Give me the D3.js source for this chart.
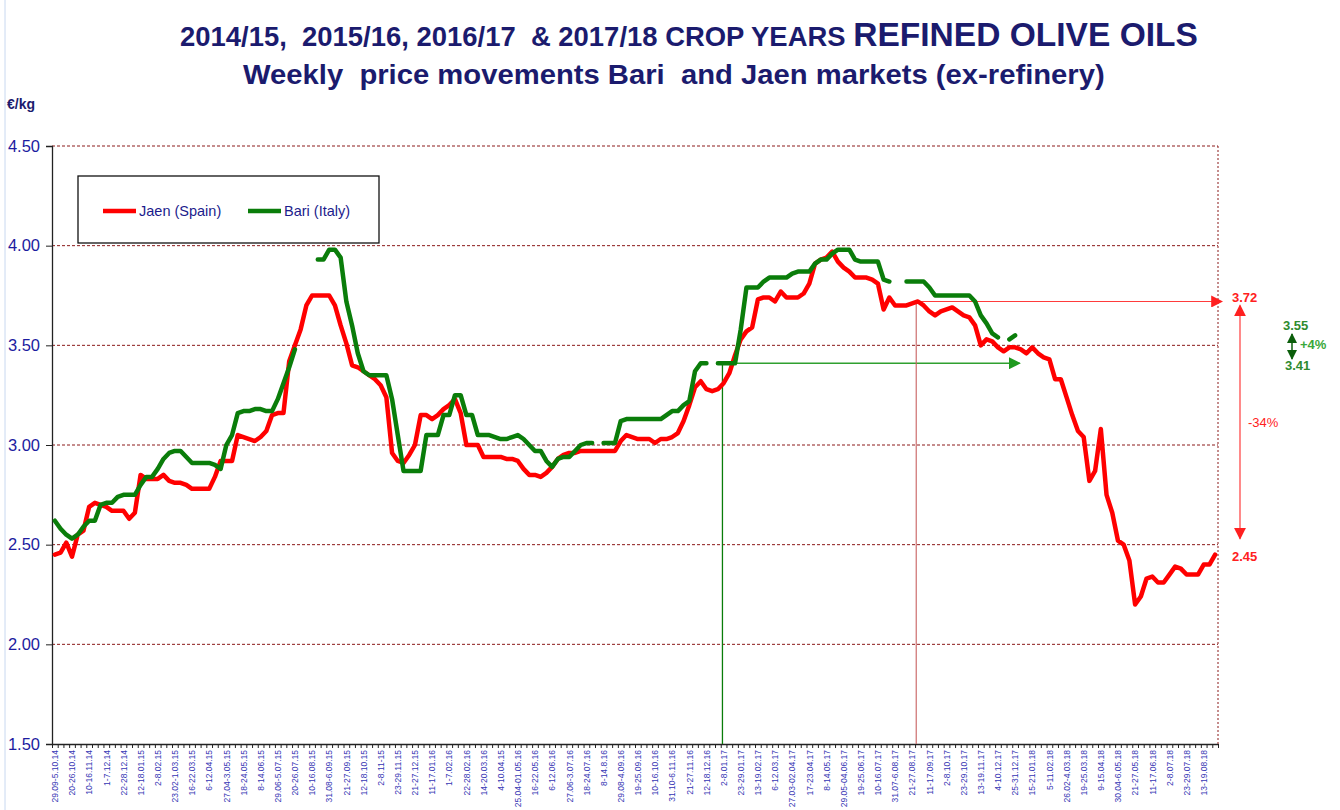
<!DOCTYPE html>
<html>
<head>
<meta charset="utf-8">
<script src="https://cdn.jsdelivr.net/npm/d3@7"></script>
<style>
  html, body { margin: 0; padding: 0; background: #ffffff; }
  svg { display: block; font-family: "Liberation Sans", Arial, sans-serif; }
  text { white-space: pre; }
</style>
</head>
<body>
<svg id="chart" width="1340" height="810"></svg>
<script>
// ---------- DATA ----------
const titleLine1a = "2014/15,  2015/16, 2016/17  & 2017/18 CROP YEARS ";
const titleLine1b = "REFINED OLIVE OILS";
const titleLine2 = "Weekly  price movements Bari  and Jaen markets (ex-refinery)";
const yUnit = "€/kg";
const seriesNames = ["Jaen (Spain)", "Bari (Italy)"];
const weekCount = 204;
const tickLabels = [
  "29.09-5.10.14","20-26.10.14","10-16.11.14","1-7.12.14","22-28.12.14","12-18.01.15",
  "2-8.02.15","23.02-1.03.15","16-22.03.15","6-12.04.15","27.04-3.05.15","18-24.05.15",
  "8-14.06.15","29.06-5.07.15","20-26.07.15","10-16.08.15","31.08-6.09.15","21-27.09.15",
  "12-18.10.15","2-8.11-15","23-29.11.15","21-27.12.15","11-17.01.16","1-7.02.16",
  "22-28.02.16","14-20.03.16","4-10.04.15","25.04-01.05.16","16-22.05.16","6-12.06.16",
  "27.06-3.07.16","18-24.07.16","8-14.8.16","29.08-4.09.16","19-25.09.16","10-16.10.16",
  "31.10-6.11.16","21-27.11.16","12-18.12.16","2-8.01.17","23-29.01.17","13-19.02.17",
  "6-12.03.17","27.03-02.04.17","17-23.04.17","8-14.05.17","29.05-04.06.17","19-25.06.17",
  "10-16.07.17","31.07-6.08.17","21-27.08.17","11-17.09.17","2-8.10.17","23-29.10.17",
  "13-19.11.17","4-10.12.17","25-31.12.17","15-21.01.18","5-11.02.18","26.02-4.03.18",
  "19-25.03.18","9-15.04.18","30.04-6.05.18","21-27.05.18","11-17.06.18","2-8.07.18",
  "23-29.07.18","13-19.08.18"
];
const yTicks = [1.5, 2.0, 2.5, 3.0, 3.5, 4.0, 4.5];

const jaen = [
  2.45,2.46,2.51,2.44,2.55,2.57,2.69,2.71,2.70,2.69,
  2.67,2.67,2.67,2.63,2.66,2.85,2.83,2.83,2.83,2.85,
  2.82,2.81,2.81,2.80,2.78,2.78,2.78,2.78,2.84,2.92,
  2.92,2.92,3.05,3.04,3.03,3.02,3.04,3.07,3.15,3.16,
  3.16,3.42,3.50,3.58,3.70,3.75,3.75,3.75,3.75,3.70,
  3.60,3.51,3.40,3.39,3.37,3.35,3.33,3.30,3.24,2.96,
  2.92,2.91,2.95,3.00,3.15,3.15,3.13,3.15,3.18,3.20,
  3.23,3.16,3.00,3.00,3.00,2.94,2.94,2.94,2.94,2.93,
  2.93,2.92,2.88,2.85,2.85,2.84,2.86,2.89,2.93,2.95,
  2.96,2.96,2.97,2.97,2.97,2.97,2.97,2.97,2.97,3.02,
  3.05,3.04,3.03,3.03,3.03,3.01,3.03,3.03,3.04,3.06,
  3.12,3.20,3.29,3.32,3.28,3.27,3.28,3.31,3.36,3.45,
  3.53,3.57,3.59,3.73,3.74,3.74,3.72,3.77,3.74,3.74,
  3.74,3.76,3.81,3.91,3.93,3.94,3.97,3.92,3.89,3.87,
  3.84,3.84,3.84,3.83,3.81,3.68,3.74,3.70,3.70,3.70,
  3.71,3.72,3.70,3.67,3.65,3.67,3.68,3.69,3.67,3.65,
  3.64,3.60,3.50,3.53,3.52,3.49,3.47,3.49,3.49,3.48,
  3.46,3.49,3.46,3.44,3.43,3.33,3.33,3.24,3.15,3.07,
  3.04,2.82,2.87,3.08,2.75,2.66,2.52,2.50,2.42,2.20,
  2.24,2.33,2.34,2.31,2.31,2.35,2.39,2.38,2.35,2.35,
  2.35,2.40,2.40,2.45
];

const bari = [
  2.62,2.58,2.55,2.53,2.55,2.59,2.62,2.62,2.70,2.71,
  2.71,2.74,2.75,2.75,2.75,2.80,2.84,2.84,2.88,2.93,
  2.96,2.97,2.97,2.94,2.91,2.91,2.91,2.91,2.90,2.88,
  3.00,3.05,3.16,3.17,3.17,3.18,3.18,3.17,3.17,3.23,
  3.31,3.39,3.48,null,null,null,3.93,3.93,3.98,3.98,
  3.94,3.72,3.60,3.46,3.37,3.35,3.35,3.35,3.35,3.23,
  3.05,2.87,2.87,2.87,2.87,3.05,3.05,3.05,3.15,3.15,
  3.25,3.25,3.15,3.15,3.05,3.05,3.05,3.04,3.03,3.03,
  3.04,3.05,3.03,3.00,2.97,2.97,2.92,2.89,2.93,2.94,
  2.94,2.97,3.00,3.01,3.01,null,3.01,3.01,3.01,3.12,
  3.13,3.13,3.13,3.13,3.13,3.13,3.13,3.15,3.17,3.17,
  3.20,3.22,3.37,3.41,3.41,null,3.41,3.41,3.41,3.41,
  3.58,3.79,3.79,3.79,3.82,3.84,3.84,3.84,3.84,3.86,
  3.87,3.87,3.87,3.91,3.93,3.93,3.96,3.98,3.98,3.98,
  3.93,3.92,3.92,3.92,3.92,3.83,3.82,null,null,3.82,
  3.82,3.82,3.82,3.79,3.75,3.75,3.75,3.75,3.75,3.75,
  3.75,3.72,3.65,3.61,3.56,3.54,null,3.53,3.55
];

// reference marks: [week index of the vertical guide, price level, week index where arrow ends]
const bariGuide = [116.8, 3.41, 168.8];
const jaenGuide = [150.7, 3.72, 204.2];
const jaenChange = [3.72, 2.45];
const bariChange = [3.55, 3.41];

// ---------- LAYOUT ----------
const svg = d3.select("#chart");
const M = { left: 52, right: 1218, top: 146, bottom: 744 };
const navy = "#1b1b6e";
const blueTxt = "#1c1ca0";
const gridCol = "#8b1a1a";
const RED = "#ff0000", GREEN = "#0a7d0a";

const x = d3.scaleLinear().domain([-0.5, weekCount - 0.5]).range([M.left, M.right]);
const y = d3.scaleLinear().domain([1.5, 4.5]).range([M.bottom, M.top]);

// faint chart-area border on the left
svg.append("line").attr("x1", 5).attr("x2", 5).attr("y1", 0).attr("y2", 810)
  .attr("stroke", "#c8d8f0").attr("stroke-width", 1);

// fit a text horizontally between two x positions
function fitX(sel, x0, x1) {
  sel.attr("x", 0);
  const w = sel.node().getBBox().width;
  const baseY = +sel.attr("y");
  sel.attr("y", 0).attr("transform", `translate(${x0},${baseY}) scale(${(x1 - x0) / w},1)`);
}

// ---------- TITLES ----------
const t1 = svg.append("text").attr("y", 46).attr("fill", navy).attr("font-weight", "bold");
t1.append("tspan").attr("font-size", 27).text(titleLine1a);
t1.append("tspan").attr("font-size", 33).text(titleLine1b);
fitX(t1, 180, 1198);
const t2 = svg.append("text").attr("y", 84)
  .attr("fill", navy).attr("font-weight", "bold").attr("font-size", 28).text(titleLine2);
fitX(t2, 243, 1105);

svg.append("text").attr("x", 7).attr("y", 109).attr("fill", navy)
  .attr("font-weight", "bold").attr("font-size", 14).text(yUnit);

// ---------- GRID ----------
svg.append("g").selectAll("line").data(yTicks.filter(d => d > 1.5)).join("line")
  .attr("x1", M.left).attr("x2", M.right)
  .attr("y1", d => y(d)).attr("y2", d => y(d))
  .attr("stroke", gridCol).attr("stroke-width", 1).attr("stroke-dasharray", "3,2");
svg.append("line").attr("x1", M.right).attr("x2", M.right).attr("y1", M.top).attr("y2", M.bottom)
  .attr("stroke", gridCol).attr("stroke-width", 1).attr("stroke-dasharray", "2,2");

// ---------- AXES ----------
const yAxis = svg.append("g").attr("transform", `translate(${M.left},0)`)
  .call(d3.axisLeft(y).tickValues(yTicks).tickFormat(d3.format(".2f")).tickSize(6).tickPadding(6));
yAxis.select(".domain").attr("stroke", "#222").attr("stroke-width", 1.3);
yAxis.selectAll(".tick line").attr("stroke", "#222");
yAxis.selectAll(".tick text").attr("fill", blueTxt).attr("font-size", 16.5)
  .attr("font-family", "\"Liberation Sans\", Arial, sans-serif");

const boundaries = d3.range(weekCount + 1).map(i => i - 0.5);
const xAxis = svg.append("g").attr("transform", `translate(0,${M.bottom})`)
  .call(d3.axisBottom(x).tickValues(boundaries).tickFormat("").tickSize(4).tickSizeOuter(0));
xAxis.select(".domain").attr("stroke", "#222").attr("stroke-width", 1.3);
xAxis.selectAll(".tick line").attr("stroke", "#222");

const labelIdx = tickLabels.map((_, i) => i * 3);
const xLab = svg.append("g").attr("transform", `translate(0,${M.bottom})`)
  .call(d3.axisBottom(x).tickValues(labelIdx).tickFormat(d => tickLabels[d / 3]).tickSize(0).tickPadding(0));
xLab.select(".domain").remove();
xLab.selectAll(".tick text")
  .attr("transform", "rotate(-90)")
  .attr("text-anchor", "end").attr("dy", "0.32em").attr("x", -6).attr("y", 0)
  .attr("font-size", 8.5).attr("fill", "#3636b4")
  .attr("font-family", "\"Liberation Sans\", Arial, sans-serif");

// ---------- GUIDE LINES ----------
const defs = svg.append("defs");
function marker(id, col, size) {
  defs.append("marker").attr("id", id).attr("viewBox", "0 0 10 10")
    .attr("refX", 9).attr("refY", 5).attr("markerWidth", size).attr("markerHeight", size)
    .attr("markerUnits", "userSpaceOnUse").attr("orient", "auto-start-reverse")
    .append("path").attr("d", "M0,0 L10,5 L0,10 Z").attr("fill", col);
}
marker("arrG", "#1f9a1f", 12);
marker("arrR", "#ff2020", 12);
marker("arrG2", "#0b5e0b", 10);

svg.append("line").attr("x1", x(bariGuide[0])).attr("x2", x(bariGuide[0]))
  .attr("y1", y(1.5)).attr("y2", y(bariGuide[1]))
  .attr("stroke", "#0a7d0a").attr("stroke-width", 1.3);
svg.append("line").attr("x1", x(bariGuide[0])).attr("x2", x(bariGuide[2]))
  .attr("y1", y(bariGuide[1])).attr("y2", y(bariGuide[1]))
  .attr("stroke", "#2fa02f").attr("stroke-width", 1.3).attr("marker-end", "url(#arrG)");
svg.append("line").attr("x1", x(jaenGuide[0])).attr("x2", x(jaenGuide[0]))
  .attr("y1", y(1.5)).attr("y2", y(jaenGuide[1]))
  .attr("stroke", "#c86060").attr("stroke-width", 1.1);
svg.append("line").attr("x1", x(jaenGuide[0])).attr("x2", x(jaenGuide[2]))
  .attr("y1", y(jaenGuide[1])).attr("y2", y(jaenGuide[1]))
  .attr("stroke", "#ff3b3b").attr("stroke-width", 1.2).attr("marker-end", "url(#arrR)");

// ---------- SERIES ----------
const line = d3.line().defined(d => d != null).x((d, i) => x(i)).y(d => y(d));
svg.append("path").datum(jaen).attr("d", line).attr("fill", "none")
  .attr("stroke", RED).attr("stroke-width", 4.5).attr("stroke-linejoin", "round").attr("stroke-linecap", "round");
svg.append("path").datum(bari).attr("d", line).attr("fill", "none")
  .attr("stroke", GREEN).attr("stroke-width", 4.5).attr("stroke-linejoin", "round").attr("stroke-linecap", "round");

// ---------- LEGEND ----------
const lg = svg.append("g");
lg.append("rect").attr("x", 78).attr("y", 176).attr("width", 301).attr("height", 67)
  .attr("fill", "#fff").attr("stroke", "#111").attr("stroke-width", 1.3);
[[RED, 103, 139], [GREEN, 248, 284]].forEach(([c, x0, tx], k) => {
  lg.append("line").attr("x1", x0).attr("x2", x0 + 33).attr("y1", 211).attr("y2", 211)
    .attr("stroke", c).attr("stroke-width", 4.5);
  lg.append("text").attr("x", tx).attr("y", 216).attr("font-size", 14.5).attr("fill", "#1c1c8c")
    .text(seriesNames[k]);
});

// ---------- RIGHT ANNOTATIONS ----------
const fmt2 = d3.format(".2f");
const pct = (a, b) => Math.round((b - a) / a * 100);
const ann = svg.append("g").attr("font-weight", "bold").attr("font-size", 13);
ann.append("text").attr("x", 1232).attr("y", y(jaenChange[0]) + 1).attr("fill", "#ff2020").text(fmt2(jaenChange[0]));
ann.append("text").attr("x", 1232).attr("y", y(jaenChange[1]) + 6).attr("fill", "#ff2020").text(fmt2(jaenChange[1]));
ann.append("line").attr("x1", 1240).attr("x2", 1240)
  .attr("y1", y(jaenChange[0]) + 4).attr("y2", y(jaenChange[1]) - 16)
  .attr("stroke", "#ff3b3b").attr("stroke-width", 1.2)
  .attr("marker-start", "url(#arrR)").attr("marker-end", "url(#arrR)");
ann.append("text").attr("x", 1248).attr("y", (y(jaenChange[0]) + y(jaenChange[1])) / 2 - 1)
  .attr("fill", "#ff2020").attr("font-weight", "normal").text(`${pct(jaenChange[0], jaenChange[1])}%`);

ann.append("text").attr("x", 1283).attr("y", 330).attr("fill", "#2e8b2e").text(fmt2(bariChange[0]));
ann.append("text").attr("x", 1285).attr("y", 370).attr("fill", "#2e8b2e").text(fmt2(bariChange[1]));
ann.append("line").attr("x1", 1292).attr("x2", 1292).attr("y1", 334).attr("y2", 359)
  .attr("stroke", "#0b5e0b").attr("stroke-width", 1.5)
  .attr("marker-start", "url(#arrG2)").attr("marker-end", "url(#arrG2)");
ann.append("text").attr("x", 1300).attr("y", 349).attr("fill", "#3aa83a")
  .text(`+${pct(bariChange[1], bariChange[0])}%`);
</script>
</body>
</html>
